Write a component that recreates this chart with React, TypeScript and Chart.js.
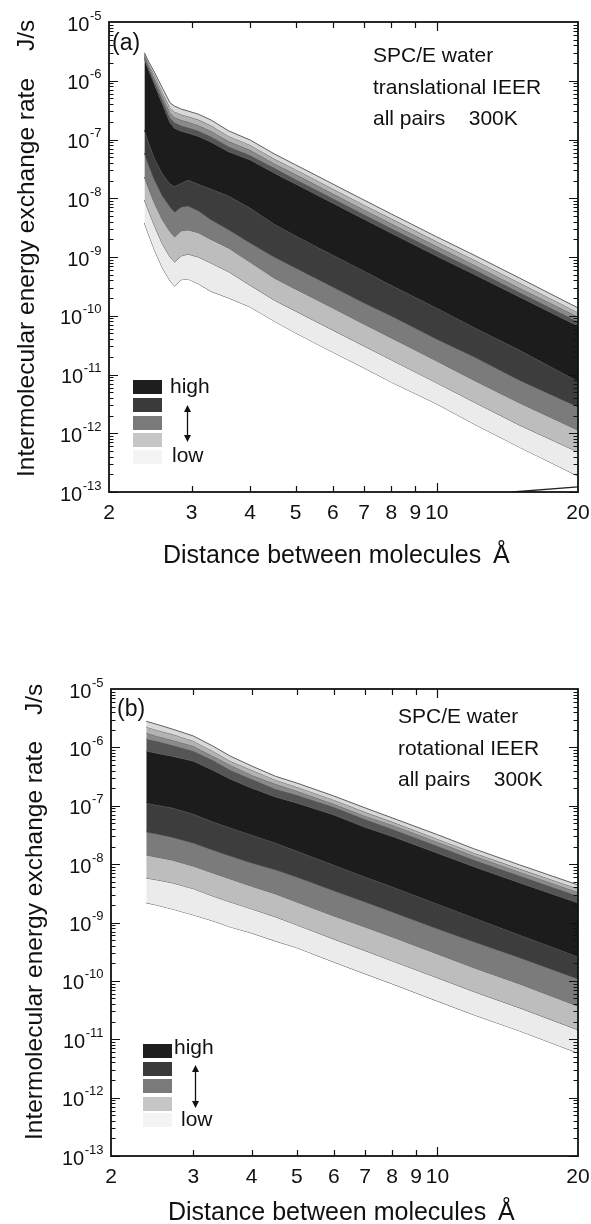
import React, { useEffect, useRef } from "react";
import { Chart, registerables } from "chart.js";

Chart.register(...registerables);

const FONT = '"Liberation Sans", Arial, Helvetica, sans-serif';

// ---------------- Panel (a): translational IEER ----------------
const distanceA = [2.38, 2.42, 2.5, 2.6, 2.7, 2.76, 2.85, 2.95, 3.1, 3.3, 3.6, 4, 4.5, 5, 6, 7, 8, 10, 12, 15, 20];
const transEdge1 = [3.0e-6, 2.25e-6, 1.4e-6, 7.5e-7, 4.2e-7, 3.7e-7, 3.3e-7, 3.05e-7, 2.7e-7, 2.15e-7, 1.4e-7, 9.8e-8, 5.7e-8, 3.7e-8, 1.75e-8, 9.3e-9, 5.4e-9, 2.2e-9, 1.08e-9, 4.4e-10, 1.36e-10];
const transEdge2 = [2.83e-6, 2.08e-6, 1.25e-6, 6.4e-7, 3.45e-7, 2.98e-7, 2.66e-7, 2.46e-7, 2.18e-7, 1.73e-7, 1.14e-7, 8.1e-8, 4.7e-8, 3.1e-8, 1.45e-8, 7.7e-9, 4.5e-9, 1.83e-9, 9.0e-10, 3.65e-10, 1.14e-10];
const transEdge3 = [2.67e-6, 1.93e-6, 1.1e-6, 5.5e-7, 2.84e-7, 2.4e-7, 2.14e-7, 1.98e-7, 1.75e-7, 1.4e-7, 9.3e-8, 6.6e-8, 3.9e-8, 2.55e-8, 1.2e-8, 6.4e-9, 3.7e-9, 1.52e-9, 7.4e-10, 3.0e-10, 9.6e-11];
const transEdge4 = [2.52e-6, 1.78e-6, 9.8e-7, 4.7e-7, 2.33e-7, 1.94e-7, 1.73e-7, 1.6e-7, 1.41e-7, 1.13e-7, 7.6e-8, 5.4e-8, 3.3e-8, 2.1e-8, 1.0e-8, 5.3e-9, 3.1e-9, 1.26e-9, 6.2e-10, 2.5e-10, 8.0e-11];
const transHighTop = [2.37e-6, 1.65e-6, 8.7e-7, 4.0e-7, 1.92e-7, 1.56e-7, 1.39e-7, 1.29e-7, 1.14e-7, 9.1e-8, 6.2e-8, 4.5e-8, 2.7e-8, 1.75e-8, 8.3e-9, 4.4e-9, 2.55e-9, 1.04e-9, 5.1e-10, 2.1e-10, 6.7e-11];
const transLevel1 = [1.45e-7, 9.8e-8, 4.8e-8, 2.6e-8, 1.75e-8, 1.6e-8, 1.8e-8, 2.05e-8, 1.75e-8, 1.44e-8, 1.09e-8, 6.8e-9, 3.65e-9, 2.3e-9, 1.08e-9, 5.8e-10, 3.3e-10, 1.36e-10, 6.4e-11, 2.6e-11, 7.7e-12];
const transLevel2 = [5.9e-8, 4.0e-8, 2.05e-8, 1.09e-8, 7.1e-9, 5.8e-9, 7.1e-9, 7.4e-9, 6.1e-9, 4.3e-9, 2.9e-9, 1.73e-9, 1.0e-9, 6.5e-10, 3.1e-10, 1.65e-10, 9.9e-11, 4.0e-11, 2.0e-11, 8.0e-12, 2.8e-12];
const transLevel3 = [2.3e-8, 1.6e-8, 8.3e-9, 4.3e-9, 2.7e-9, 2.2e-9, 2.8e-9, 2.9e-9, 2.6e-9, 2.0e-9, 1.42e-9, 8.2e-10, 4.4e-10, 2.85e-10, 1.36e-10, 7.2e-11, 4.2e-11, 1.7e-11, 8.0e-12, 3.3e-12, 1.13e-12];
const transLevel4 = [9.3e-9, 6.6e-9, 3.4e-9, 1.66e-9, 1.0e-9, 8.2e-10, 1.04e-9, 1.12e-9, 1.0e-9, 7.9e-10, 5.6e-10, 3.3e-10, 1.85e-10, 1.2e-10, 5.7e-11, 3.05e-11, 1.77e-11, 7.2e-12, 3.4e-12, 1.38e-12, 4.8e-13];
const transLowest = [3.8e-9, 2.6e-9, 1.32e-9, 6.5e-10, 3.9e-10, 3.2e-10, 4.1e-10, 4.2e-10, 3.5e-10, 2.6e-10, 2.0e-10, 1.41e-10, 8.1e-11, 5.1e-11, 2.4e-11, 1.29e-11, 7.4e-12, 3.15e-12, 1.44e-12, 5.8e-13, 1.87e-13];
const transSliverX = [14.5, 20];
const transSliverY = [1.0e-13, 1.22e-13];

// ---------------- Panel (b): rotational IEER ----------------
const distanceB = [2.38, 2.5, 2.7, 3.0, 3.3, 3.6, 4, 4.5, 5, 6, 7, 8, 10, 12, 15, 20];
const rotEdge1 = [2.8e-6, 2.5e-6, 2.07e-6, 1.57e-6, 1.06e-6, 7.1e-7, 4.8e-7, 3.2e-7, 2.45e-7, 1.47e-7, 9.2e-8, 6.2e-8, 3.2e-8, 1.82e-8, 9.7e-9, 4.4e-9];
const rotEdge2 = [2.24e-6, 1.99e-6, 1.7e-6, 1.29e-6, 8.7e-7, 5.85e-7, 4.1e-7, 2.77e-7, 2.1e-7, 1.26e-7, 7.8e-8, 5.3e-8, 2.7e-8, 1.55e-8, 8.3e-9, 3.8e-9];
const rotEdge3 = [1.76e-6, 1.57e-6, 1.34e-6, 1.06e-6, 7.1e-7, 5.0e-7, 3.37e-7, 2.36e-7, 1.79e-7, 1.07e-7, 6.7e-8, 4.7e-8, 2.4e-8, 1.38e-8, 7.35e-9, 3.3e-9];
const rotEdge4 = [1.39e-6, 1.29e-6, 1.1e-6, 8.7e-7, 6.1e-7, 4.1e-7, 2.88e-7, 1.94e-7, 1.53e-7, 9.5e-8, 5.9e-8, 4.0e-8, 2.05e-8, 1.18e-8, 6.3e-9, 2.85e-9];
const rotHighTop = [8.7e-7, 8.0e-7, 7.1e-7, 5.85e-7, 4.1e-7, 2.88e-7, 2.02e-7, 1.42e-7, 1.12e-7, 7.0e-8, 4.3e-8, 3.0e-8, 1.55e-8, 9.0e-9, 4.8e-9, 2.17e-9];
const rotLevel1 = [1.12e-7, 1.03e-7, 9.2e-8, 7.2e-8, 5.3e-8, 4.2e-8, 3.16e-8, 2.3e-8, 1.68e-8, 9.7e-9, 6.0e-9, 4.1e-9, 2.08e-9, 1.2e-9, 6.1e-10, 2.6e-10];
const rotLevel2 = [3.56e-8, 3.3e-8, 2.9e-8, 2.3e-8, 1.75e-8, 1.38e-8, 1.05e-8, 8.0e-9, 6.0e-9, 3.5e-9, 2.25e-9, 1.52e-9, 7.8e-10, 4.65e-10, 2.5e-10, 1.08e-10];
const rotLevel3 = [1.44e-8, 1.33e-8, 1.18e-8, 9.3e-9, 7.1e-9, 5.6e-9, 4.2e-9, 3.1e-9, 2.25e-9, 1.3e-9, 8.4e-10, 5.7e-10, 2.9e-10, 1.67e-10, 8.9e-11, 3.7e-11];
const rotLevel4 = [5.8e-9, 5.4e-9, 4.8e-9, 3.8e-9, 2.85e-9, 2.25e-9, 1.71e-9, 1.25e-9, 9.1e-10, 5.2e-10, 3.3e-10, 2.2e-10, 1.13e-10, 6.5e-11, 3.45e-11, 1.45e-11];
const rotLowest = [2.17e-9, 2.0e-9, 1.71e-9, 1.35e-9, 1.07e-9, 8.4e-10, 6.6e-10, 4.8e-10, 3.7e-10, 2.1e-10, 1.32e-10, 8.9e-11, 4.5e-11, 2.6e-11, 1.39e-11, 5.8e-12];

// ---------------- axes / legend ----------------
const xTickValues = [2, 3, 4, 5, 6, 7, 8, 9, 10, 20];
const xTickLabels = ["2", "3", "4", "5", "6", "7", "8", "9", "10", "20"];
const xInnerTicks = [3, 4, 5, 6, 7, 8, 9, 10];
const yDecadeExponents = [-5, -6, -7, -8, -9, -10, -11, -12, -13];
const bandColors = ["#d9d9d9", "#b2b2b2", "#8a8a8a", "#555555", "#1c1c1c", "#3d3d3d", "#7b7b7b", "#bdbdbd", "#ebebeb"];
const legendColors = ["#1e1e1e", "#3a3a3a", "#7a7a7a", "#c6c6c6", "#f4f4f4"];

type PanelCfg = {
  top: number;
  height: number;
  padding: { left: number; top: number; right: number; bottom: number };
  distances: number[];
  boundaries: number[][];
  sliver?: { x: number[]; y: number[] };
  letter: string;
  letterPos: [number, number];
  caption: string[];
  captionX: number;
  captionY: number[];
  yTitleX: number;
  yTitleStart: number;
  unitStart: number;
  xTitleX: number;
  xTitleY: number;
  angstromX: number;
  legendX: number;
  legendTops: number[];
  highPos: [number, number];
  lowPos: [number, number];
  arrow: [number, number, number];
};

const panelA: PanelCfg = {
  top: 0,
  height: 600,
  padding: { left: 109, top: 22, right: 13, bottom: 108 },
  distances: distanceA,
  boundaries: [transEdge1, transEdge2, transEdge3, transEdge4, transHighTop, transLevel1, transLevel2, transLevel3, transLevel4, transLowest],
  sliver: { x: transSliverX, y: transSliverY },
  letter: "(a)",
  letterPos: [112, 50],
  caption: ["SPC/E water", "translational IEER", "all pairs    300K"],
  captionX: 373,
  captionY: [62, 94, 125],
  yTitleX: 34,
  yTitleStart: 477,
  unitStart: 51,
  xTitleX: 163,
  xTitleY: 563,
  angstromX: 493,
  legendX: 133,
  legendTops: [380, 398, 416, 433, 450],
  highPos: [170, 393],
  lowPos: [172, 462],
  arrow: [187, 405, 442],
};

const panelB: PanelCfg = {
  top: 600,
  height: 624,
  padding: { left: 111, top: 89, right: 13, bottom: 68 },
  distances: distanceB,
  boundaries: [rotEdge1, rotEdge2, rotEdge3, rotEdge4, rotHighTop, rotLevel1, rotLevel2, rotLevel3, rotLevel4, rotLowest],
  letter: "(b)",
  letterPos: [117, 116],
  caption: ["SPC/E water", "rotational IEER", "all pairs    300K"],
  captionX: 398,
  captionY: [123, 155, 186],
  yTitleX: 42,
  yTitleStart: 540,
  unitStart: 115,
  xTitleX: 168,
  xTitleY: 620,
  angstromX: 498,
  legendX: 143,
  legendTops: [444, 462, 479, 497, 513],
  highPos: [174, 454],
  lowPos: [181, 526],
  arrow: [195, 465, 508],
};

function makeDecor(cfg: PanelCfg) {
  return {
    id: "decor" + cfg.letter,
    afterDraw(chart: any) {
      const { ctx, chartArea: ca } = chart;
      const xs = chart.scales.x;
      const ys = chart.scales.y;
      ctx.save();
      ctx.strokeStyle = "#111";
      ctx.fillStyle = "#111";

      // minor / major ticks on y (both sides, inward)
      ctx.lineWidth = 1.2;
      for (let e = -13; e <= -6; e++) {
        for (let k = 1; k <= 9; k++) {
          const py = Math.round(ys.getPixelForValue(k * Math.pow(10, e))) + 0.5;
          const len = k === 1 ? 9 : 4.5;
          ctx.beginPath();
          ctx.moveTo(ca.left, py);
          ctx.lineTo(ca.left + len, py);
          ctx.moveTo(ca.right, py);
          ctx.lineTo(ca.right - len, py);
          ctx.stroke();
        }
      }
      // x ticks (top and bottom, inward)
      for (const v of xInnerTicks) {
        const px = Math.round(xs.getPixelForValue(v)) + 0.5;
        const len = v === 10 ? 9 : 6;
        ctx.beginPath();
        ctx.moveTo(px, ca.bottom);
        ctx.lineTo(px, ca.bottom - len);
        ctx.moveTo(px, ca.top);
        ctx.lineTo(px, ca.top + len);
        ctx.stroke();
      }
      // frame
      ctx.lineWidth = 1.8;
      ctx.strokeRect(ca.left, ca.top, ca.right - ca.left, ca.bottom - ca.top);

      // y tick labels 10^n
      ctx.textBaseline = "middle";
      ctx.textAlign = "left";
      for (const e of yDecadeExponents) {
        const py = ys.getPixelForValue(Math.pow(10, e));
        const expStr = "-" + String(Math.abs(e));
        ctx.font = `20px ${FONT}`;
        const w10 = ctx.measureText("10").width;
        ctx.font = `13px ${FONT}`;
        const we = ctx.measureText(expStr).width;
        const x0 = ca.left - 8 - we - w10;
        ctx.font = `20px ${FONT}`;
        ctx.fillText("10", x0, py + 3);
        ctx.font = `13px ${FONT}`;
        ctx.fillText(expStr, x0 + w10 + 0.5, py - 6);
      }
      // x tick labels
      ctx.font = `21px ${FONT}`;
      ctx.textAlign = "center";
      xTickValues.forEach((v, i) => {
        const px = xs.getPixelForValue(v);
        ctx.fillText(xTickLabels[i], px, ca.bottom + 21);
      });

      // axis titles
      ctx.textBaseline = "alphabetic";
      ctx.textAlign = "left";
      ctx.font = `24.5px ${FONT}`;
      ctx.save();
      ctx.translate(cfg.yTitleX, cfg.yTitleStart);
      ctx.rotate(-Math.PI / 2);
      ctx.fillText("Intermolecular energy exchange rate", 0, 0);
      ctx.restore();
      ctx.save();
      ctx.translate(cfg.yTitleX, cfg.unitStart);
      ctx.rotate(-Math.PI / 2);
      ctx.fillText("J/s", 0, 0);
      ctx.restore();

      ctx.font = `25px ${FONT}`;
      ctx.fillText("Distance between molecules", cfg.xTitleX, cfg.xTitleY);
      ctx.fillText("Å", cfg.angstromX, cfg.xTitleY);

      // panel letter
      ctx.font = `23px ${FONT}`;
      ctx.fillText(cfg.letter, cfg.letterPos[0], cfg.letterPos[1]);

      // caption
      ctx.font = `21px ${FONT}`;
      cfg.caption.forEach((s, i) => ctx.fillText(s, cfg.captionX, cfg.captionY[i]));

      // legend
      cfg.legendTops.forEach((t, i) => {
        ctx.fillStyle = legendColors[i];
        ctx.fillRect(cfg.legendX, t, 29, 14);
      });
      ctx.fillStyle = "#111";
      ctx.font = `21px ${FONT}`;
      ctx.fillText("high", cfg.highPos[0], cfg.highPos[1]);
      ctx.fillText("low", cfg.lowPos[0], cfg.lowPos[1]);
      const [ax, a0, a1] = cfg.arrow;
      ctx.lineWidth = 1.3;
      ctx.beginPath();
      ctx.moveTo(ax + 0.5, a0 + 4);
      ctx.lineTo(ax + 0.5, a1 - 4);
      ctx.stroke();
      ctx.beginPath();
      ctx.moveTo(ax + 0.5, a0);
      ctx.lineTo(ax - 3, a0 + 7);
      ctx.lineTo(ax + 4, a0 + 7);
      ctx.closePath();
      ctx.fill();
      ctx.beginPath();
      ctx.moveTo(ax + 0.5, a1);
      ctx.lineTo(ax - 3, a1 - 7);
      ctx.lineTo(ax + 4, a1 - 7);
      ctx.closePath();
      ctx.fill();

      ctx.restore();
    },
  };
}

function buildDatasets(cfg: PanelCfg) {
  const n = cfg.boundaries.length;
  const sets: any[] = cfg.boundaries.map((vals, i) => ({
    label: `contour ${i + 1}`,
    data: cfg.distances.map((r, j) => ({ x: r, y: vals[j] })),
    borderColor: "#5e5e5e",
    borderWidth: 1,
    pointRadius: 0,
    tension: 0,
    fill: i < n - 1 ? "+1" : false,
    backgroundColor: i < n - 1 ? bandColors[i] : "rgba(0,0,0,0)",
  }));
  if (cfg.sliver) {
    const s = cfg.sliver;
    sets.push({
      label: "edge",
      data: s.x.map((r, j) => ({ x: r, y: s.y[j] })),
      borderColor: "#222",
      borderWidth: 1.3,
      pointRadius: 0,
      fill: false,
    });
  }
  return sets;
}

function Panel({ cfg }: { cfg: PanelCfg }) {
  const ref = useRef<HTMLCanvasElement | null>(null);
  useEffect(() => {
    if (!ref.current) return;
    const chart = new Chart(ref.current, {
      type: "line",
      data: { datasets: buildDatasets(cfg) },
      options: {
        animation: false,
        responsive: false,
        maintainAspectRatio: false,
        layout: { padding: cfg.padding },
        plugins: {
          legend: { display: false },
          tooltip: { enabled: false },
        },
        scales: {
          x: { type: "logarithmic", min: 2, max: 20, display: false },
          y: { type: "logarithmic", min: 1e-13, max: 1e-5, display: false },
        },
      },
      plugins: [makeDecor(cfg)],
    } as any);
    return () => chart.destroy();
  }, [cfg]);
  return (
    <canvas
      ref={ref}
      width={591}
      height={cfg.height}
      style={{ position: "absolute", left: 0, top: cfg.top, width: 591, height: cfg.height, display: "block" }}
    />
  );
}

export default function App() {
  return (
    <div style={{ position: "absolute", left: 0, top: 0, width: 591, height: 1224, background: "#fff", overflow: "hidden" }}>
      <Panel cfg={panelA} />
      <Panel cfg={panelB} />
    </div>
  );
}
